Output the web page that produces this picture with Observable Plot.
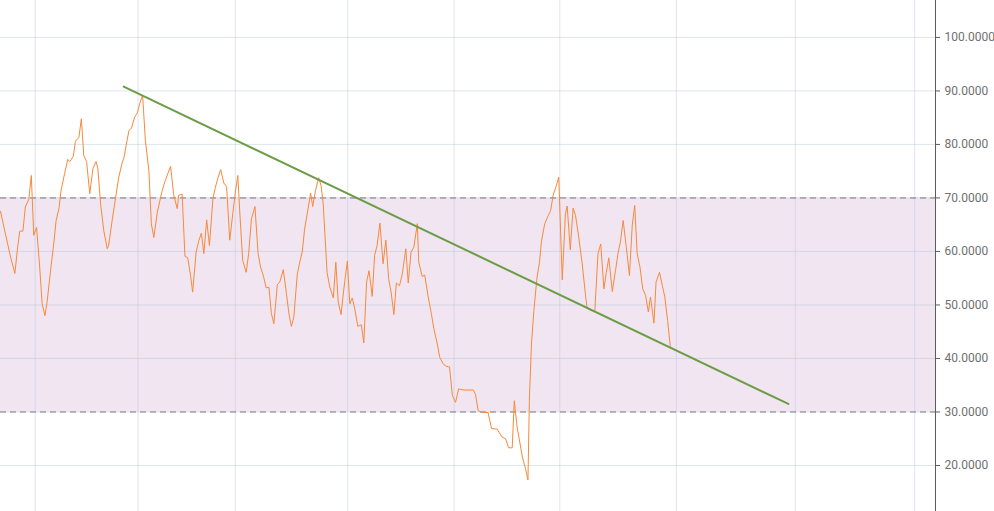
<!DOCTYPE html>
<html><head><meta charset="utf-8">
<script src="https://cdn.jsdelivr.net/npm/d3@7"></script>
<script src="https://cdn.jsdelivr.net/npm/@observablehq/plot@0.6"></script>
<style>html,body{margin:0;padding:0;background:#fff}svg{display:block}</style>
</head><body><div id="chart"></div>
<script>
// bar index (days) of each vertex of the RSI line
const day = [0,1.4,2.9,4.1,4.8,5.5,6.4,7.1,8.1,8.8,9.5,10.3,11.2,11.9,12.7,13.3,14.3,15.2,15.9,16.7,17.3,18.3,19.2,19.8,20.8,21.4,22.4,23.1,23.8,24.6,25.5,26.4,27.3,27.8,28.6,29.5,30.5,30.9,31.9,32.9,33.8,34.8,35.2,35.9,36.7,37.4,38.3,39.1,39.8,40.6,41.4,42.4,43.1,43.8,44.8,46.2,47.1,48.6,49.5,50.5,50.9,51.9,52.7,53.5,54.3,54.9,55.9,56.7,57.4,58.1,58.9,59.7,60.7,61.4,62.2,62.9,63.8,64.6,65.5,66.4,67.1,67.8,68.4,69.2,70.2,70.9,71.7,72.7,73.6,74.3,75.2,75.9,76.7,77.4,78.1,79.1,79.8,80.8,81.7,82.4,83.1,83.8,84.8,85.5,86.2,86.9,87.8,88.6,89.2,90.0,90.9,91.6,92.2,92.9,93.3,94.1,95.1,95.8,96.5,97.3,98.1,99.1,99.8,100.5,101.2,102.1,103.1,103.8,104.6,105.3,106.2,106.9,107.6,108.4,109.3,110.1,110.9,111.6,112.4,113.1,114.0,114.8,115.8,116.5,117.3,118.1,119.1,119.5,120.5,121.2,122.2,123.1,123.8,124.8,125.5,126.4,127.1,128.3,129.1,130.0,130.9,132.4,135.1,135.7,136.5,137.9,139.3,140.3,141.9,143.3,144.3,145.2,146.2,146.8,147.6,149.1,150.0,150.7,151.1,151.7,152.4,153.3,154.0,154.6,155.5,156.5,157.2,157.9,158.8,159.5,160.5,161.4,161.9,162.8,163.6,164.3,165.2,166.2,167.1,167.6,168.6,169.8,170.7,171.5,172.4,173.1,173.8,174.8,175.7,176.5,177.1,177.9,178.8,179.7,180.5,181.2,181.9,182.7,183.5,184.3,185.1,185.7,186.7,187.3,188.3,189.1,189.8,190.6,191.4];
// RSI value of each vertex
const rsi = [67.5,63.3,58.9,55.9,60.2,63.8,63.8,68.3,69.8,74.2,63.0,64.5,57.1,50.2,48.0,50.5,56.4,61.4,65.8,68.0,71.4,74.5,77.2,76.8,77.8,80.6,81.3,84.8,77.9,76.8,70.8,75.5,76.8,75.6,68.9,63.9,60.5,61.1,65.8,70.1,73.9,76.7,77.3,79.8,82.6,83.0,85.1,85.9,87.7,89.2,80.7,75.1,65.2,62.6,67.3,71.4,73.3,75.9,70.5,68.0,70.5,70.7,59.1,58.8,55.5,52.4,59.9,62.1,63.4,59.6,65.9,61.1,69.9,72.0,73.9,75.3,72.8,72.1,62.1,67.3,71.1,74.2,67.0,58.3,56.1,59.6,66.1,68.4,59.6,57.1,55.2,53.2,53.3,48.4,46.5,53.8,54.3,56.6,52.1,48.4,46.0,47.7,55.8,58.0,59.9,64.2,67.7,70.9,68.4,71.4,73.8,72.3,68.9,60.8,56.1,53.3,51.3,58.0,50.5,48.2,53.0,58.2,50.2,51.3,49.3,46.0,46.3,42.9,54.3,56.4,51.6,59.3,61.1,65.3,57.7,62.1,54.9,52.4,48.2,54.1,53.6,55.8,60.5,54.1,59.9,60.8,65.2,58.0,55.3,55.6,51.5,48.4,45.6,42.7,40.2,39.1,38.6,38.4,33.1,31.8,34.3,34.1,34.1,33.3,30.2,29.9,29.9,26.9,26.8,25.3,25.0,23.3,23.3,32.1,27.2,21.6,19.4,17.3,32.1,42.7,49.0,55.2,58.0,62.1,65.2,66.7,67.7,70.5,72.3,73.9,54.7,67.0,68.5,60.3,68.1,66.7,62.7,57.7,52.1,49.4,49.0,48.8,59.6,61.4,53.0,56.1,58.8,52.5,56.4,59.9,61.7,65.8,60.8,55.5,64.9,68.6,59.6,57.1,53.0,51.8,48.7,51.5,46.6,54.3,56.1,53.6,51.5,47.1,42.1];
// trend line end points
const trendDay = [35.2, 225.1];
const trendValue = [90.8, 31.5];
// overbought / oversold band
const bandLow = 30;
const bandHigh = 70;
// y tick values
const yTicks = [20, 30, 40, 50, 60, 70, 80, 90, 100];
// vertical grid positions (bar index)
const xGrid = [9.9, 39.3, 67.1, 99.2, 129.6, 159.8, 193.1, 227.1, 261.2];
const xMax = 267.14;

const series = day.map((d, i) => ({day: d, rsi: rsi[i]}));
const trend = trendDay.map((d, i) => ({day: d, value: trendValue[i]}));

const chart = Plot.plot({
  width: 994,
  height: 511,
  marginLeft: 0,
  marginRight: 59,
  marginTop: 0,
  marginBottom: 0,
  x: {domain: [0, xMax], axis: null},
  y: {domain: [11.4, 106.9], axis: null},
  style: {fontFamily: "Roboto, 'Liberation Sans', sans-serif", fontSize: "12px", background: "#fff"},
  marks: [
    Plot.rect([{lo: bandLow, hi: bandHigh}], {x1: 0, x2: xMax, y1: "lo", y2: "hi", fill: "#f0e5f1"}),
    Plot.ruleY(yTicks, {stroke: "rgba(180,198,218,0.45)", strokeWidth: 1}),
    Plot.ruleX(xGrid, {stroke: "rgba(180,198,218,0.45)", strokeWidth: 1}),
    Plot.ruleY([bandLow, bandHigh], {stroke: "#7d7880", strokeWidth: 1, strokeDasharray: "6,4"}),
    Plot.line(series, {x: "day", y: "rsi", stroke: "#f7893c", strokeWidth: 1}),
    Plot.line(trend, {x: "day", y: "value", stroke: "#6a9d45", strokeWidth: 2}),
    Plot.ruleX([xMax], {stroke: "#5c5c5c", strokeWidth: 1}),
    Plot.axisY(yTicks, {anchor: "right", tickSize: 4, tickPadding: 5, tickFormat: d => d.toFixed(4), stroke: "#5c5c5c", fill: "#707070"})
  ]
});
document.getElementById("chart").append(chart);
</script>
</body></html>
